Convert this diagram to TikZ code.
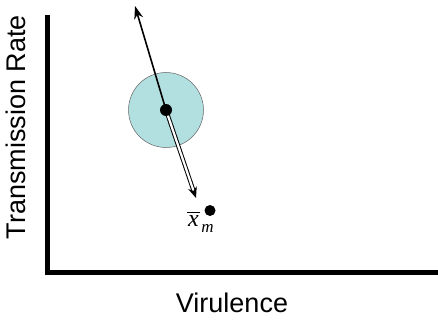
\documentclass[tikz,border=0pt]{standalone}
\usepackage{fontspec}
\setmainfont{Liberation Sans}
\newfontfamily\tnr{Liberation Serif}
\usetikzlibrary{arrows.meta}
\definecolor{blobfill}{RGB}{178,223,224}
\begin{document}
\begin{tikzpicture}[x=1pt,y=-1pt,
  axis/.style={line width=5pt},
  lbl/.style={font=\fontsize{27}{30}\selectfont},
  dotnode/.style={circle,fill=black,inner sep=0pt,minimum size=11pt}]
\useasboundingbox (0,0) rectangle (438,334);
% axes
\coordinate (top) at (47.5,15);
\coordinate (origin) at (47.5,272);
\coordinate (right) at (438,272);
\draw[axis,line cap=butt] (top) -- (origin) -- (right);
% labels
\node[lbl,rotate=90] (ylab) at (16,127) {Transmission Rate};
\node[lbl] (xlab) at (232,303) {Virulence};
% circle
\node[circle,draw=black!60,line width=0.5pt,fill=blobfill,minimum size=75pt,inner sep=0pt] (blob) at (166,110) {};
\coordinate (c0) at (166,110);
\coordinate (uptip) at (135,6);
\coordinate (downtip) at (196,198);
\draw[line width=1.6pt,-{Stealth[length=13pt,width=9pt]}] (c0) -- (uptip);
\draw[double,double distance=2.2pt,line width=1pt,-{Stealth[length=11pt,width=9pt]}] (c0) -- (downtip);
\node[dotnode,minimum size=12pt] (c) at (c0) {};
% xm point
\node[dotnode] (xm) at (210,210.5) {};
\node[inner sep=0pt,font=\tnr\itshape\fontsize{24}{26}\selectfont] (xbar) at (193.5,221) {x};
\node[inner sep=0pt,font=\tnr\itshape\fontsize{17}{18}\selectfont,anchor=center] (msub) at (207.5,228) {m};
\coordinate (olA) at (187,212.5);
\coordinate (olB) at (200,212.5);
\draw[line width=1.1pt] (olA) -- (olB);
\end{tikzpicture}
\end{document}
